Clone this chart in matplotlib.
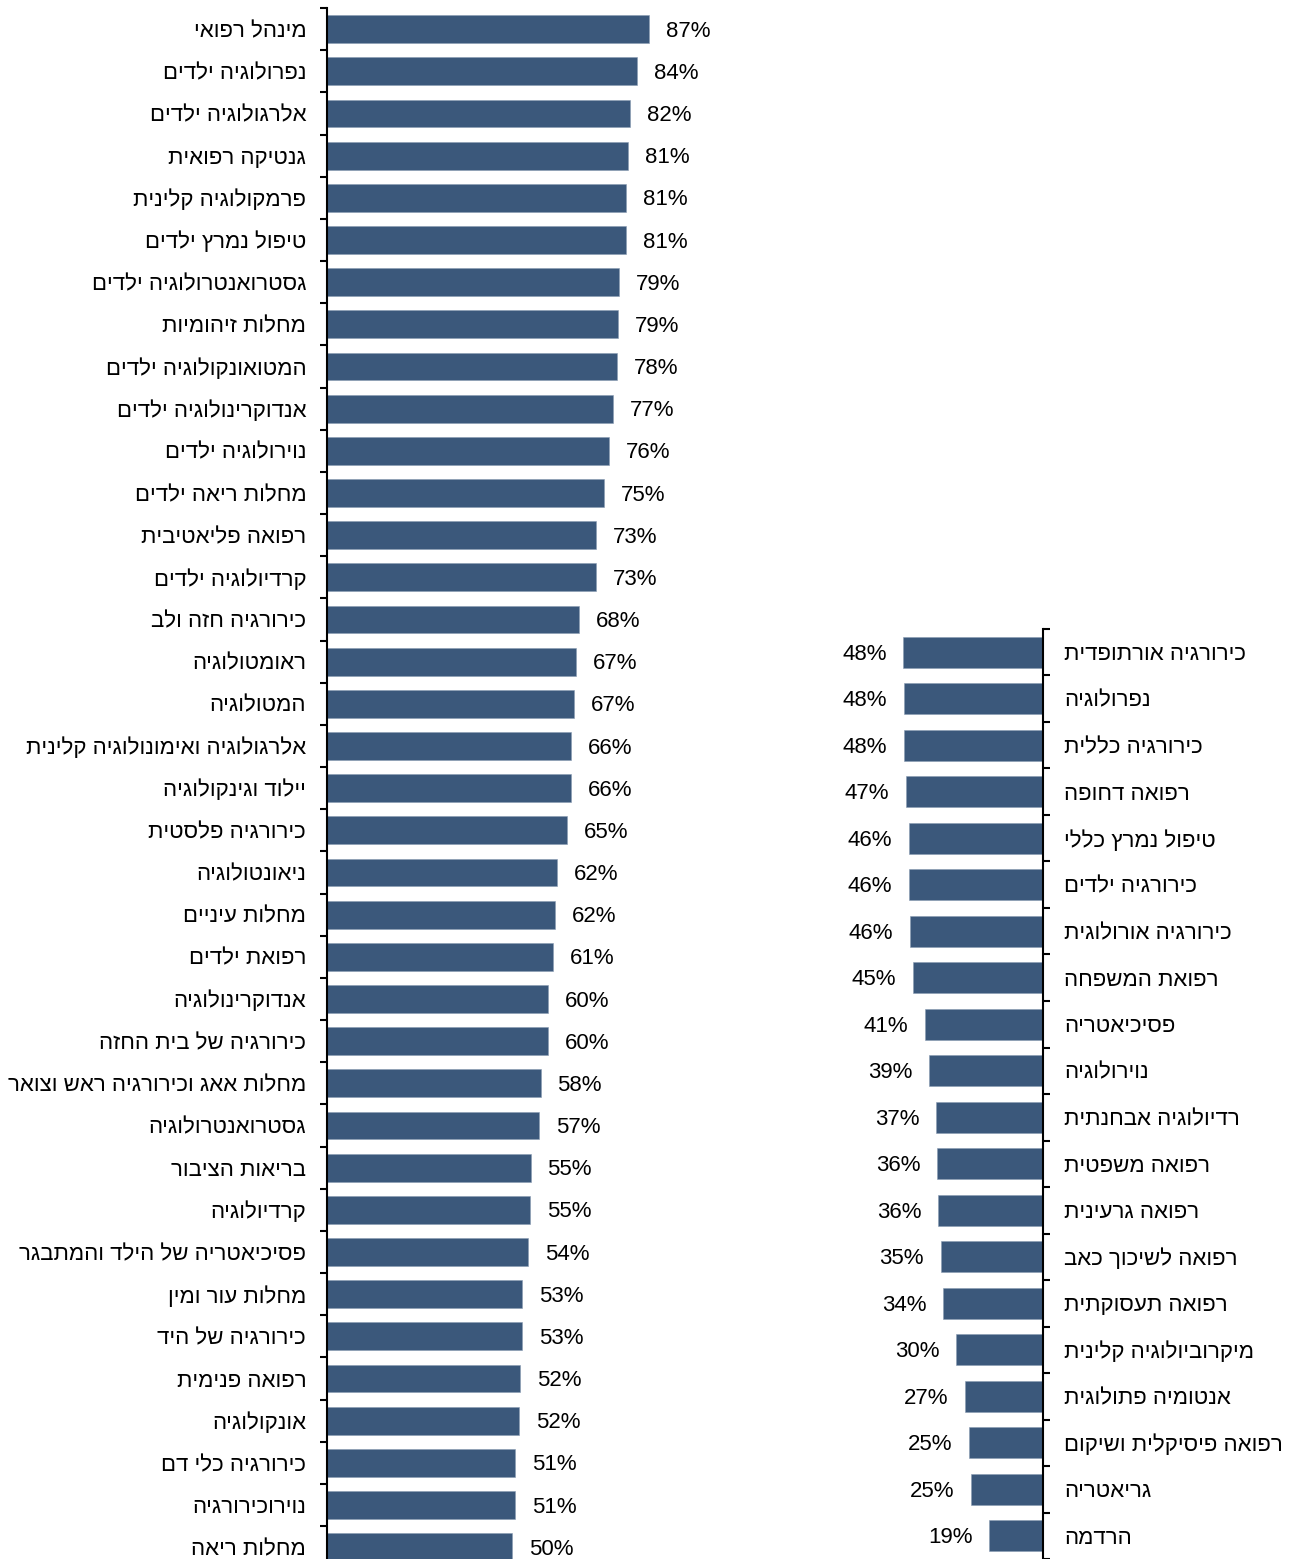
import numpy as np
import matplotlib
matplotlib.use("Agg")
import matplotlib.pyplot as plt
from matplotlib.ticker import FixedLocator, NullFormatter

plt.rcParams['font.family'] = ['Liberation Sans', 'DejaVu Sans']

# left panel (top to bottom)
left_names = [
    'מינהל רפואי', 'נפרולוגיה ילדים', 'אלרגולוגיה ילדים', 'גנטיקה רפואית',
    'פרמקולוגיה קלינית', 'טיפול נמרץ ילדים', 'גסטרואנטרולוגיה ילדים',
    'מחלות זיהומיות', 'המטואונקולוגיה ילדים', 'אנדוקרינולוגיה ילדים',
    'נוירולוגיה ילדים', 'מחלות ריאה ילדים', 'רפואה פליאטיבית',
    'קרדיולוגיה ילדים', 'כירורגיה חזה ולב', 'ראומטולוגיה', 'המטולוגיה',
    'אלרגולוגיה ואימונולוגיה קלינית', 'יילוד וגינקולוגיה', 'כירורגיה פלסטית',
    'ניאונטולוגיה', 'מחלות עיניים', 'רפואת ילדים', 'אנדוקרינולוגיה',
    'כירורגיה של בית החזה', 'מחלות אאג וכירורגיה ראש וצואר',
    'גסטרואנטרולוגיה', 'בריאות הציבור', 'קרדיולוגיה',
    'פסיכיאטריה של הילד והמתבגר', 'מחלות עור ומין', 'כירורגיה של היד',
    'רפואה פנימית', 'אונקולוגיה', 'כירורגיה כלי דם', 'נוירוכירורגיה',
    'מחלות ריאה',
]
left_vals = [
    87.0, 83.8, 81.9, 81.4, 80.8, 80.8, 78.9, 78.6, 78.4, 77.3, 76.2, 74.9,
    72.7, 72.7, 68.1, 67.3, 66.8, 65.9, 65.9, 64.9, 62.2, 61.6, 61.1, 59.7,
    59.7, 57.8, 57.4, 55.1, 54.9, 54.3, 52.7, 52.7, 52.2, 51.9, 50.8, 50.8,
    50.0,
]

# right panel (top to bottom)
right_names = [
    'כירורגיה אורתופדית', 'נפרולוגיה', 'כירורגיה כללית', 'רפואה דחופה',
    'טיפול נמרץ כללי', 'כירורגיה ילדים', 'כירורגיה אורולוגית',
    'רפואת המשפחה', 'פסיכיאטריה', 'נוירולוגיה', 'רדיולוגיה אבחנתית',
    'רפואה משפטית', 'רפואה גרעינית', 'רפואה לשיכוך כאב', 'רפואה תעסוקתית',
    'מיקרוביולוגיה קלינית', 'אנטומיה פתולוגית', 'רפואה פיסיקלית ושיקום',
    'גריאטריה', 'הרדמה',
]
right_vals = [
    48.2, 47.9, 47.9, 47.2, 46.2, 46.2, 45.9, 44.8, 40.7, 39.3, 36.9, 36.4,
    36.1, 35.3, 34.4, 30.0, 26.9, 25.4, 24.8, 18.6,
]

BAR = '#3b587b'
W, H = 1298, 1559
FS = 16


def rtl(s):
    # matplotlib lays text out left-to-right
    return s[::-1]


def style_axis(ax, n, side):
    ax.set_ylim(n - 0.5, -0.5)
    for sp in ['top', 'bottom', 'left', 'right']:
        ax.spines[sp].set_visible(sp == side)
    ax.spines[side].set_linewidth(1.5)
    ax.set_xticks([])
    ax.yaxis.set_ticks_position(side)
    ax.yaxis.set_minor_locator(FixedLocator(np.arange(n + 1) - 0.5))
    ax.yaxis.set_minor_formatter(NullFormatter())
    ax.tick_params(axis='y', which='minor', length=5, width=1.5, direction='out')
    ax.tick_params(axis='y', which='major', length=0, pad=15, labelsize=FS)
    ax.patch.set_alpha(0)


fig = plt.figure(figsize=(W / 100, H / 100), dpi=100)

# left panel: spine at x=327, top boundary at y=8, 42.17 px per row
nl = len(left_names)
row_l = 42.17
top_l = 8
ax1 = fig.add_axes([327 / W, 1 - (top_l + nl * row_l) / H, 370 / W, nl * row_l / H])
yl = np.arange(nl)
ax1.barh(yl, left_vals, height=0.66, color=BAR, edgecolor='#8a9bb3', linewidth=0.4)
ax1.set_xlim(0, 100)
style_axis(ax1, nl, 'left')
ax1.set_yticks(yl)
ax1.set_yticklabels([rtl(s) for s in left_names])
for y, v in zip(yl, left_vals):
    ax1.annotate('{:.0f}%'.format(v), (v, y), xytext=(12, -1.5), textcoords='offset points',
                 ha='left', va='center', fontsize=FS)

# right panel: spine at x=1043, rows from y=628.7 to bottom, 46.5 px per row
nr = len(right_names)
row_r = 46.5
ax2 = fig.add_axes([(1043 - 290) / W, 0, 290 / W, nr * row_r / H])
yr = np.arange(nr)
ax2.barh(yr, right_vals, height=0.67, color=BAR, edgecolor='#8a9bb3', linewidth=0.4)
ax2.set_xlim(100, 0)
style_axis(ax2, nr, 'right')
ax2.set_yticks(yr)
ax2.set_yticklabels([rtl(s) for s in right_names])
for y, v in zip(yr, right_vals):
    ax2.annotate('{:.0f}%'.format(v), (v, y), xytext=(-12, -1.5), textcoords='offset points',
                 ha='right', va='center', fontsize=FS)

fig.savefig('out.png', dpi=100)
